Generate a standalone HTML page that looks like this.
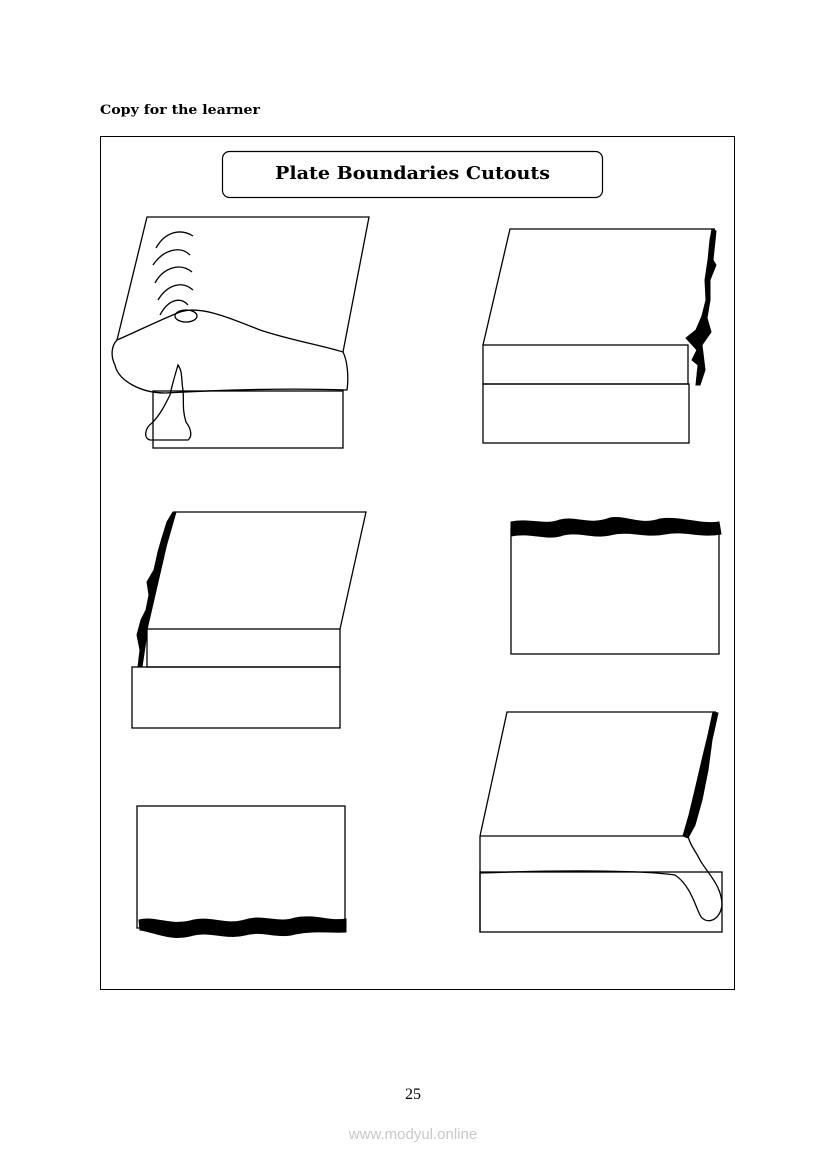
<!DOCTYPE html>
<html><head><meta charset="utf-8"><style>
html,body{margin:0;padding:0;background:#fff;}
svg{display:block}
</style></head><body>
<svg width="826" height="1169" viewBox="0 0 826 1169" xmlns="http://www.w3.org/2000/svg">
<rect width="826" height="1169" fill="#fff"/>
<text x="100" y="114" font-family="DejaVu Serif, serif" font-weight="bold" font-size="13" textLength="160" lengthAdjust="spacingAndGlyphs">Copy for the learner</text>
<rect x="100.5" y="136.5" width="634" height="853" fill="none" stroke="#000" stroke-width="1"/>
<rect x="222.5" y="151.5" width="380" height="46" rx="7" fill="none" stroke="#000" stroke-width="1.2"/>
<text x="275" y="179" font-family="DejaVu Serif, serif" font-weight="bold" font-size="18" textLength="275" lengthAdjust="spacingAndGlyphs">Plate Boundaries Cutouts</text>

<g fill="none" stroke="#000" stroke-width="1.3">
<!-- Fig 1 -->
<polyline points="117,340 147,217 369,217 343,352"/>
<rect x="153" y="391" width="190" height="57"/>
<path d="M117,340 C140,330 160,320 180,312 C200,305 230,318 260,330 C290,340 320,345 343,352" />
<path d="M117,340 C112,345 110,355 115,365 C118,380 140,393 165,393 C220,390 290,388 347,390 C349,375 347,360 343,352"/>
<ellipse cx="186" cy="316" rx="11" ry="6"/>
<path d="M156,248 C165,232 180,228 193,236"/>
<path d="M153,265 C163,250 180,245 190,255"/>
<path d="M155,283 C163,268 180,262 192,272"/>
<path d="M158,300 C167,285 182,280 193,290"/>
<path d="M160,315 C168,300 180,296 188,305"/>
<path d="M178,365 C183,372 181,380 183,390 C184,400 182,410 186,422 C192,430 192,437 188,440 L150,440 C143,438 145,428 152,423 C160,415 165,405 170,395 C172,385 175,375 178,365 Z"/>
<!-- Fig 2 -->
<polyline points="483,345 510,229 715,229"/>
<rect x="483" y="345" width="205" height="39"/>
<rect x="483" y="384" width="206" height="59"/>
<!-- Fig 3 -->
<polyline points="147,629 174,512 366,512 340,629"/>
<rect x="147" y="629" width="193" height="38"/>
<rect x="132" y="667" width="208" height="61"/>
<!-- Fig 4 -->
<rect x="511" y="528" width="208" height="126"/>
<!-- Fig 5 -->
<rect x="137" y="806" width="208" height="122"/>
<!-- Fig 6 -->
<polyline points="480,836 507,712 716,712"/>
<line x1="480" y1="836" x2="688" y2="836"/>
<line x1="480" y1="836" x2="480" y2="932"/>
<rect x="480" y="872" width="242" height="60"/>
<path d="M480,873 C560,870 640,870 675,875 C690,885 695,905 700,915 C705,925 720,922 722,905 C722,885 705,870 700,860 C695,850 690,845 688,836"/>
</g>
<g fill="#000" stroke="#000" stroke-width="1">
<path d="M712,229 L716,231 L713,260 L716,265 L710,280 L710,300 L707,318 L711,332 L702,345 L705,370 L700,385 L696,385 L698,365 L692,360 L697,350 L686,338 L696,330 L702,316 L706,300 L705,280 L708,260 L710,240 Z"/>
<path d="M173,512 L176,512 L168,540 L163,555 L159,575 L155,590 L152,605 L148,620 L146,640 L142,667 L138,667 L140,650 L137,635 L141,620 L146,610 L149,595 L147,582 L154,570 L158,552 L162,538 L167,522 Z"/>
<path d="M511,522 C530,518 545,526 560,520 C575,516 590,526 610,518 C625,515 640,526 660,519 C680,516 700,525 719,522 L721,534 C700,538 685,530 665,534 C645,538 630,530 610,535 C592,539 578,530 560,536 C545,540 530,532 511,536 Z"/>
<path d="M139,920 C155,916 170,926 190,921 C210,915 225,926 245,920 C262,914 278,924 295,918 C315,914 330,922 346,919 L346,932 C330,933 315,930 295,934 C278,939 262,930 245,935 C225,940 210,930 190,936 C170,941 155,932 140,930 Z"/>
<path d="M713,712 L718,713 L712,740 L708,770 L702,800 L695,825 L688,838 L683,836 L689,815 L695,790 L702,760 L708,735 Z"/>
</g>
<text x="413" y="1099" text-anchor="middle" font-family="Liberation Serif, serif" font-size="16">25</text>
<text x="413" y="1139" text-anchor="middle" font-family="Liberation Sans, sans-serif" font-size="15" fill="#c8c8c8">www.modyul.online</text>
</svg>
</body></html>
